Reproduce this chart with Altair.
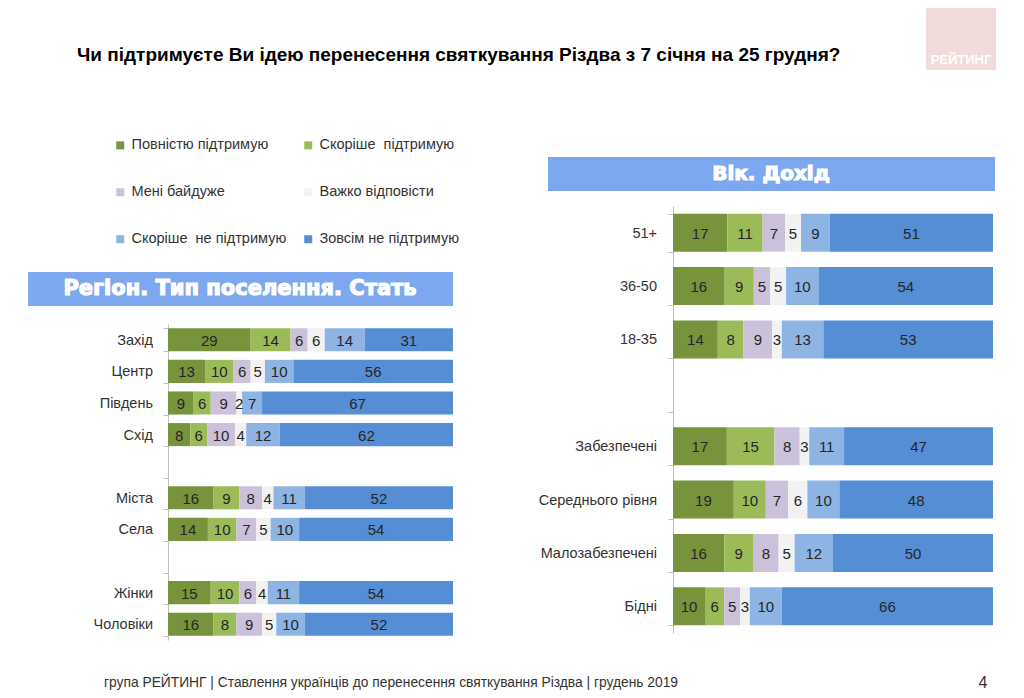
import altair as alt
import pandas as pd

# ---------------- data ----------------
series = ["Повністю підтримую", "Скоріше\u00a0 підтримую", "Мені байдуже",
          "Важко відповісти", "Скоріше\u00a0 не підтримую", "Зовсім не підтримую"]
colors = ["#77933C", "#9BBB59", "#CCC1DA", "#F2F2F2", "#8DB4E2", "#558ED5"]

left_cats = ["Захід", "Центр", "Південь", "Схід", "Міста", "Села", "Жінки", "Чоловіки"]
left_domain = ["Захід", "Центр", "Південь", "Схід", "_g1", "Міста", "Села", "_g2", "Жінки", "Чоловіки"]
left_full_support = [29, 13, 9, 8, 16, 14, 15, 16]
left_rather_support = [14, 10, 6, 6, 9, 10, 10, 8]
left_indifferent = [6, 6, 9, 10, 8, 7, 6, 9]
left_hard = [6, 5, 2, 4, 4, 5, 4, 5]
left_rather_not = [14, 10, 7, 12, 11, 10, 11, 10]
left_not_at_all = [31, 56, 67, 62, 52, 54, 54, 52]

right_cats = ["51+", "36-50", "18-35", "Забезпечені", "Середнього рівня", "Малозабезпечені", "Бідні"]
right_domain = ["51+", "36-50", "18-35", "_g3", "Забезпечені", "Середнього рівня", "Малозабезпечені", "Бідні"]
right_full_support = [17, 16, 14, 17, 19, 16, 10]
right_rather_support = [11, 9, 8, 15, 10, 9, 6]
right_indifferent = [7, 5, 9, 8, 7, 8, 5]
right_hard = [5, 5, 3, 3, 6, 5, 3]
right_rather_not = [9, 10, 13, 11, 10, 12, 10]
right_not_at_all = [51, 54, 53, 47, 48, 50, 66]


def long_df(cats, cols):
    rows = []
    for i, c in enumerate(cats):
        for k, s in enumerate(series):
            rows.append({"cat": c, "series": s, "order": k, "value": cols[k][i]})
    return pd.DataFrame(rows)


left_df = long_df(left_cats, [left_full_support, left_rather_support, left_indifferent,
                              left_hard, left_rather_not, left_not_at_all])
right_df = long_df(right_cats, [right_full_support, right_rather_support, right_indifferent,
                                right_hard, right_rather_not, right_not_at_all])

FONT = "Liberation Sans"

color = alt.Color("series:N", scale=alt.Scale(domain=series, range=colors),
                  legend=alt.Legend(title=None, orient="none", legendX=105, legendY=130,
                                    direction="horizontal", columns=2, columnPadding=14,
                                    rowPadding=32, gridAlign="all",
                                    symbolType="square", symbolSize=64, symbolStrokeWidth=0,
                                    labelFont=FONT, labelFontSize=14.5, labelLimit=300,
                                    labelColor="#333333", labelOffset=4, padding=0))


def panel(df, cats, domain, xrange, yrange, pad, offset, fsize, nsize, label_x):
    xs = alt.Scale(domain=[0, 1], range=xrange, nice=False, zero=False)
    ys = alt.Scale(domain=domain, range=yrange, paddingInner=pad, paddingOuter=pad / 2)
    ax = alt.Axis(title=None, orient="left", offset=-offset, tickBand="extent",
                  domainColor="#BFBFBF", tickColor="#BFBFBF", tickSize=5,
                  labels=False, grid=False)
    base = alt.Chart(df).transform_stack(
        stack="value", groupby=["cat"], as_=["x0", "x1"],
        sort=[alt.SortField("order")], offset="normalize")
    bars = base.mark_bar(cornerRadius=0).encode(
        x=alt.X("x0:Q", scale=xs, axis=None),
        x2="x1:Q",
        y=alt.Y("cat:N", scale=ys, axis=ax),
        color=color,
    )
    text = base.transform_calculate(xm="(datum.x0 + datum.x1) / 2").mark_text(
        font=FONT, fontSize=nsize, color="#262626", baseline="middle", align="center", dy=1
    ).encode(
        x=alt.X("xm:Q", scale=xs, axis=None),
        y=alt.Y("cat:N", scale=ys, axis=ax),
        text="value:Q",
    )
    names = alt.Chart(pd.DataFrame({"cat": cats})).mark_text(
        font=FONT, fontSize=fsize, color="#333333", baseline="middle", align="right", dy=1
    ).encode(
        x=alt.value(label_x),
        y=alt.Y("cat:N", scale=ys, axis=ax),
        text="cat:N",
    )
    return alt.layer(bars, text, names)


left = panel(left_df, left_cats, left_domain, [160, 445], [316, 632], 0.27, 160, 14.5, 15, 145)
right = panel(right_df, right_cats, right_domain, [665, 985], [198, 625], 0.29, 665, 14.5, 15, 649)

one = pd.DataFrame({"a": [0]})


def label(txt, x, y, size, weight="normal", color_="#333333", align="left", font=FONT, stroke=None):
    kw = {}
    if stroke:
        kw = {"stroke": stroke, "strokeWidth": 1.2}
    return alt.Chart(one).mark_text(
        text=txt, font=font, fontSize=size, fontWeight=weight, color=color_,
        align=align, baseline="middle", **kw
    ).encode(x=alt.value(x), y=alt.value(y))


def box(x, x2, y, y2, fill):
    return alt.Chart(one).mark_rect(color=fill).encode(
        x=alt.value(x), x2=alt.value(x2), y=alt.value(y), y2=alt.value(y2))


deco = alt.layer(
    box(918, 988, 0, 62, "#F2DCDB"),
    label("РЕЙТИНГ", 953, 52, 13, "bold", "#FFFFFF", "center"),
    label("Чи підтримуєте Ви ідею перенесення святкування Різдва з 7 січня на 25 грудня?",
          69, 47, 19, "bold", "#000000"),
    box(20, 445, 264, 298, "#7DA7EE"),
    label("Регіон. Тип поселення. Стать", 232, 281, 21, "bold", "#FFFFFF", "center",
          "DejaVu Sans", "#FFFFFF"),
    box(540, 987, 149, 183, "#7DA7EE"),
    label("Вік. Дохід", 763, 166, 20, "bold", "#FFFFFF", "center", "DejaVu Sans", "#FFFFFF"),
    label("група РЕЙТИНГ | Ставлення українців до перенесення святкування Різдва  | грудень 2019",
          96, 675, 13.8, "normal", "#333333"),
    label("4", 975, 675, 16, "normal", "#333333", "center"),
)

chart = alt.layer(deco, left, right).resolve_scale(
    x="independent", y="independent"
).properties(
    width=1008, height=682, autosize="none", padding=0, background="#FFFFFF"
).configure_view(stroke=None)

chart.save("out.html", embed_options={"renderer": "svg", "actions": False})
